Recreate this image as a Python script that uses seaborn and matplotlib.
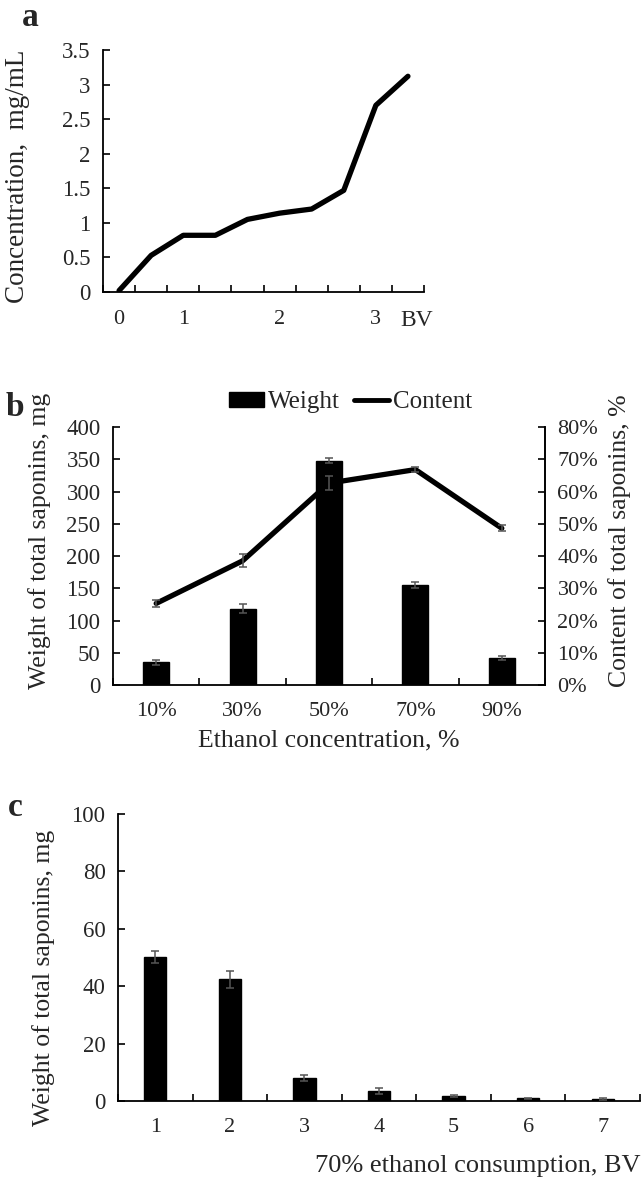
import numpy as np
import pandas as pd
import matplotlib
matplotlib.use("Agg")
import matplotlib.pyplot as plt
from matplotlib.ticker import FuncFormatter, FixedLocator
from matplotlib.patches import Patch
from matplotlib.lines import Line2D
import seaborn as sns

# ---------------- data ----------------
# Panel a: breakthrough curve
bv_points = np.arange(10)
bv_labels = ["0", "", "1", "", "", "2", "", "", "3", ""]
concentration = [0.02, 0.53, 0.82, 0.82, 1.05, 1.14, 1.20, 1.47, 2.70, 3.12]

# Panel b: ethanol concentration
ethanol_cats = ["10%", "30%", "50%", "70%", "90%"]
weight_b = [35, 118, 348, 155, 42]
weight_b_err = [3.5, 7, 4, 5, 2.5]
content_b = [25.3, 38.5, 62.6, 66.8, 48.6]
content_b_err = [1.0, 2.0, 2.2, 0.8, 1.0]

# Panel c: 70% ethanol consumption
bv_cats = ["1", "2", "3", "4", "5", "6", "7"]
weight_c = [50.2, 42.4, 8.0, 3.5, 1.7, 0.9, 0.6]
weight_c_err = [2.1, 3.0, 1.0, 0.9, 0.4, 0.2, 0.3]

# ---------------- style ----------------
sns.set_theme(style="white")
plt.rcParams["font.family"] = ["Liberation Serif", "DejaVu Serif"]
YTICK = 16.5
XTICK = 16
LAB = 18.5

W, H = 644, 1181
fig = plt.figure(figsize=(W / 100, H / 100), dpi=100)


def box(l, r, t, b):
    return [l / W, 1 - b / H, (r - l) / W, (b - t) / H]


def style_axis(ax, n, right=False):
    ax.set_xlim(-0.5, n - 0.5)
    ax.xaxis.set_minor_locator(FixedLocator(np.arange(n + 1) - 0.5))
    ax.tick_params(axis="x", which="minor", direction="in", length=5, width=1.2,
                   bottom=True, color="black")
    ax.tick_params(axis="x", which="major", length=0, pad=12, labelsize=XTICK)
    ax.tick_params(axis="y", which="major", direction="in", length=5, width=1.2,
                   left=True, labelsize=YTICK, pad=9, color="black")
    for s in ["left", "bottom"]:
        ax.spines[s].set_color("black")
        ax.spines[s].set_linewidth(1.3)
    ax.spines["top"].set_visible(False)
    ax.spines["right"].set_visible(right)
    ax.grid(False)


fmt_g = FuncFormatter(lambda v, p: f"{v:g}")
ERR = dict(fmt="none", ecolor="#555555", elinewidth=1.1, capsize=3,
           capthick=1.1, zorder=5)

# ---------------- panel a ----------------
axa = fig.add_axes(box(103, 424, 50, 292))
sns.lineplot(x=bv_points, y=concentration, color="black", linewidth=3.8, ax=axa)
style_axis(axa, len(bv_points))
axa.set_ylim(0, 3.5)
axa.set_yticks(np.arange(0, 3.51, 0.5))
axa.yaxis.set_major_formatter(fmt_g)
axa.set_xticks(bv_points)
axa.set_xticklabels(bv_labels)
axa.tick_params(axis="x", which="major", pad=13)
axa.set_xlabel("")
axa.set_ylabel("Concentration,  mg/mL", fontsize=19.5)
axa.yaxis.set_label_coords(-0.227, 0.48)
axa.annotate("BV", xy=(0.925, 0), xycoords="axes fraction", xytext=(0, -18),
             textcoords="offset pixels", ha="left", va="top", fontsize=XTICK + 1)

# ---------------- panel b ----------------
axb = fig.add_axes(box(113, 545, 427, 685))
xb = np.arange(len(ethanol_cats))
dfb = pd.DataFrame({"cat": ethanol_cats, "weight": weight_b})
sns.barplot(data=dfb, x="cat", y="weight", color="black", width=0.3,
            saturation=1, ax=axb, edgecolor="black")
axb.errorbar(xb, weight_b, yerr=weight_b_err, **ERR)
style_axis(axb, len(ethanol_cats), right=True)
axb.set_ylim(0, 400)
axb.set_yticks(np.arange(0, 401, 50))
axb.set_xlabel("Ethanol concentration, %", fontsize=LAB, labelpad=6)
axb.set_ylabel("Weight of total saponins, mg", fontsize=LAB)
axb.yaxis.set_label_coords(-0.144, 0.56)

axb2 = axb.twinx()
sns.lineplot(x=xb, y=content_b, color="black", linewidth=3.8, ax=axb2)
axb2.errorbar(xb, content_b, yerr=content_b_err, **ERR)
axb2.set_ylim(0, 80)
axb2.set_yticks(np.arange(0, 81, 10))
axb2.yaxis.set_major_formatter(FuncFormatter(lambda v, p: f"{v:.0f}%"))
axb2.tick_params(axis="y", direction="in", length=5, width=1.2, right=True,
                 labelsize=XTICK, pad=9, color="black")
for s in ["top", "left", "bottom"]:
    axb2.spines[s].set_visible(False)
axb2.spines["right"].set_color("black")
axb2.spines["right"].set_linewidth(1.3)
axb2.set_ylabel("Content of total saponins, %", fontsize=LAB)
axb2.yaxis.set_label_coords(1.146, 0.56)
axb2.grid(False)
axb.set_xlim(-0.5, len(ethanol_cats) - 0.5)

handles = [Patch(facecolor="black", edgecolor="black"),
           Line2D([0], [0], color="black", linewidth=3.5)]
axb.legend(handles, ["Weight", "Content"], loc="lower center",
           bbox_to_anchor=(0.55, 1.0), ncol=2, frameon=False, fontsize=18,
           handlelength=1.4, handleheight=0.6, handletextpad=0.15,
           columnspacing=0.6, borderaxespad=0.15)

# ---------------- panel c ----------------
axc = fig.add_axes(box(118, 640, 814, 1101))
dfc = pd.DataFrame({"cat": bv_cats, "weight": weight_c})
xc = np.arange(len(bv_cats))
sns.barplot(data=dfc, x="cat", y="weight", color="black", width=0.3,
            saturation=1, ax=axc, edgecolor="black")
axc.errorbar(xc, weight_c, yerr=weight_c_err, **ERR)
style_axis(axc, len(bv_cats))
axc.set_ylim(0, 100)
axc.set_yticks(np.arange(0, 101, 20))
axc.set_xlabel("70% ethanol consumption, BV", fontsize=LAB + 0.5, loc="right",
               labelpad=13)
axc.set_ylabel("Weight of total saponins, mg", fontsize=LAB)
axc.yaxis.set_label_coords(-0.12, 0.43)

# ---------------- panel letters ----------------
fig.text(30 / W, 1 - 17 / H, "a", fontsize=24, fontweight="bold",
         ha="center", va="center")
fig.text(15 / W, 1 - 407 / H, "b", fontsize=24, fontweight="bold",
         ha="center", va="center")
fig.text(15 / W, 1 - 808 / H, "c", fontsize=24, fontweight="bold",
         ha="center", va="center")

fig.savefig("out.png", dpi=100, facecolor="white")
